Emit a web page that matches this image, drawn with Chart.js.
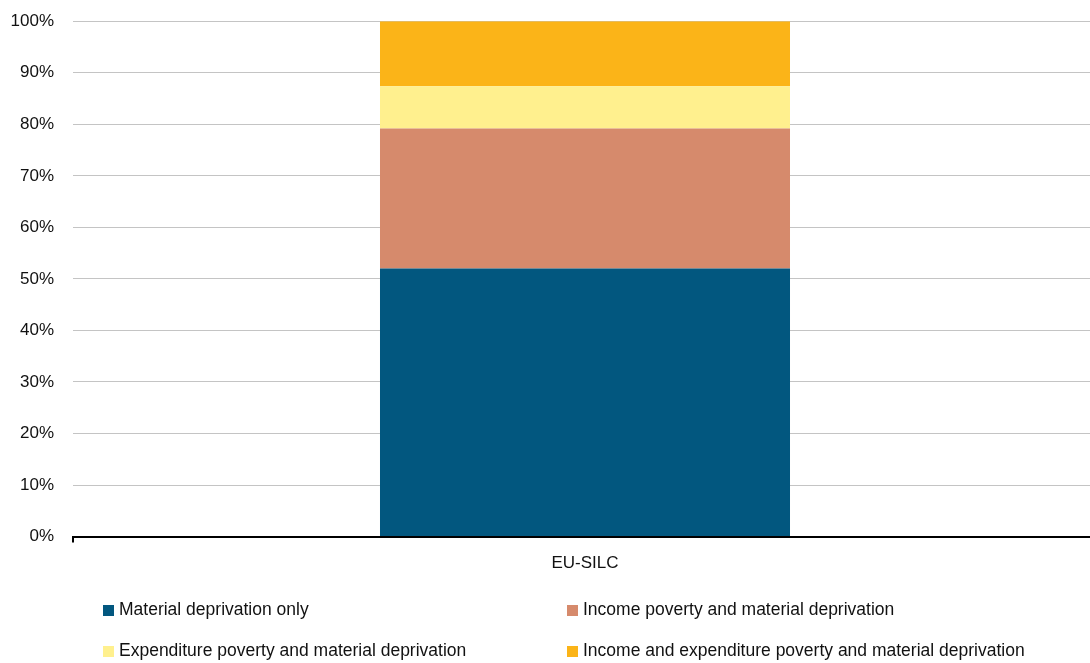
<!DOCTYPE html>
<html>
<head>
<meta charset="utf-8">
<script src="https://cdn.jsdelivr.net/npm/chart.js@4/dist/chart.umd.min.js"></script>
<style>
  html, body { margin: 0; padding: 0; background: #fff; overflow: hidden; }
  #wrap { position: relative; width: 1090px; height: 663px; overflow: hidden; }
  #chart { position: absolute; left: 0; top: -8px; }
  #legend { position: absolute; left: 0; top: 0; width: 1090px; height: 663px; pointer-events: none;
            font-family: "Liberation Sans", Arial, sans-serif; font-size: 17.5px; color: #111; }
  .item { position: absolute; white-space: nowrap; line-height: 20px; }
  .item span.box { display: inline-block; width: 11px; height: 11px; margin-right: 5px; vertical-align: -1px; }
</style>
</head>
<body>
<div id="wrap">
  <canvas id="chart" width="1097" height="671"></canvas>
  <div id="legend"></div>
</div>
<script>
const categories = ["EU-SILC"];
const seriesNames = [
  "Material deprivation only",
  "Income poverty and material deprivation",
  "Expenditure poverty and material deprivation",
  "Income and expenditure poverty and material deprivation"
];
const materialOnly = [52.0];
const incomeAndMd = [27.2];
const expenditureAndMd = [8.2];
const incomeExpenditureAndMd = [12.6];
const colours = ["#02577f", "#d68a6c", "#fff08e", "#fbb418"];

const seriesData = [materialOnly, incomeAndMd, expenditureAndMd, incomeExpenditureAndMd];

const ctx = document.getElementById("chart");
new Chart(ctx, {
  type: "bar",
  data: {
    labels: categories,
    datasets: seriesNames.map((name, i) => ({
      label: name,
      data: seriesData[i],
      backgroundColor: colours[i],
      borderWidth: 0,
      barPercentage: 0.4004,
      categoryPercentage: 1
    }))
  },
  options: {
    responsive: false,
    animation: false,
    layout: { padding: { top: 4, right: 0, bottom: 78, left: 0 } },
    plugins: { legend: { display: false }, tooltip: { enabled: false } },
    scales: {
      x: {
        stacked: true,
        border: { display: true, color: "#000", width: 2 },
        grid: {
          drawOnChartArea: false, drawTicks: true, tickLength: 6, lineWidth: 2, offset: true,
          // only the left end of the axis gets a tick
          color: c => c.index === 0 ? "#000" : "rgba(0,0,0,0)"
        },
        ticks: { color: "#111", font: { family: "Liberation Sans", size: 17 }, padding: 11 }
      },
      y: {
        stacked: true,
        min: 0,
        max: 100,
        border: { display: false },
        grid: { drawTicks: false, color: "#c4c4c4", lineWidth: 1, borderDash: [1, 1] },
        ticks: {
          stepSize: 10,
          color: "#111",
          font: { family: "Liberation Sans", size: 17 },
          padding: 19,
          callback: v => v + "%"
        },
        afterFit: s => { s.width = 73; }
      }
    }
  }
});

// two-column legend under the plot
const legendPos = [[103, 599], [567, 599], [103, 640], [567, 640]];
const legend = document.getElementById("legend");
seriesNames.forEach((name, i) => {
  const d = document.createElement("div");
  d.className = "item";
  d.style.left = legendPos[i][0] + "px";
  d.style.top = legendPos[i][1] + "px";
  d.innerHTML = '<span class="box" style="background:' + colours[i] + '"></span>' + name;
  legend.appendChild(d);
});
</script>
</body>
</html>
